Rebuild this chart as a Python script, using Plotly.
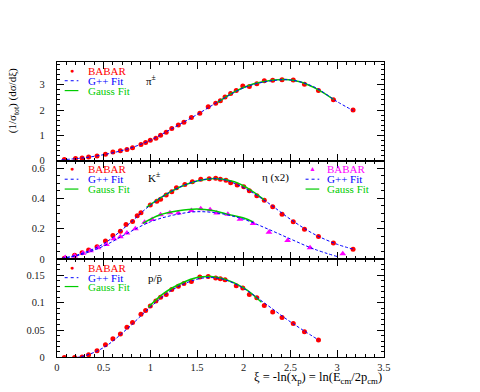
import plotly.graph_objects as go

# ---------------- data ----------------
# pi+- (top panel)
xi_pi = [0.08,0.20,0.27,0.34,0.43,0.52,0.60,0.68,0.75,0.81,0.90,0.95,1.00,1.06,1.11,1.17,1.23,1.30,1.36,1.44,1.53,1.62,1.70,1.75,1.80,1.86,1.92,1.99,2.06,2.14,2.22,2.31,2.41,2.53,2.65,2.80,2.96,3.17]
pi_data = [0.04,0.08,0.10,0.14,0.18,0.25,0.34,0.39,0.44,0.51,0.63,0.71,0.80,0.88,1.00,1.12,1.27,1.41,1.52,1.70,1.87,2.13,2.27,2.37,2.52,2.65,2.77,2.95,2.93,3.04,3.16,3.18,3.20,3.19,3.02,2.77,2.41,2.00]
gpp_pi_x = [0.05,0.25,0.5,0.75,1.0,1.25,1.5,1.75,2.0,2.25,2.5,2.75,3.0,3.17]
gpp_pi_y = [0.03,0.09,0.23,0.45,0.80,1.30,1.82,2.38,2.88,3.13,3.19,2.92,2.33,1.98]
gau_pi_x = [1.72,1.9,2.1,2.3,2.45,2.6,2.8,2.96]
gau_pi_y = [2.30,2.72,3.03,3.18,3.21,3.12,2.80,2.42]

# K+- (middle panel)
xi_k = [0.08,0.19,0.27,0.34,0.43,0.52,0.60,0.68,0.74,0.81,0.86,0.90,1.00,1.07,1.11,1.17,1.23,1.28,1.37,1.45,1.54,1.63,1.70,1.75,1.81,1.86,1.93,2.00,2.06,2.14,2.22,2.31,2.41,2.53,2.65,2.80,2.96,3.17]
k_data = [0.005,0.024,0.041,0.059,0.080,0.118,0.155,0.183,0.227,0.248,0.285,0.305,0.357,0.381,0.394,0.423,0.444,0.470,0.492,0.510,0.527,0.529,0.533,0.527,0.520,0.503,0.488,0.477,0.451,0.418,0.388,0.344,0.296,0.246,0.196,0.148,0.105,0.065]
gpp_k_x = [0.05,0.25,0.5,0.75,1.0,1.25,1.5,1.75,2.0,2.25,2.5,2.75,3.0,3.17]
gpp_k_y = [0.004,0.033,0.10,0.22,0.355,0.455,0.515,0.528,0.47,0.375,0.262,0.165,0.097,0.065]
gau_k_x = [0.96,1.1,1.3,1.5,1.7,1.9,2.05,2.22]
gau_k_y = [0.34,0.40,0.47,0.515,0.532,0.51,0.465,0.39]

# eta (x2) (middle panel)
xi_eta = [0.09,0.19,0.28,0.36,0.44,0.53,0.61,0.68,0.75,0.84,0.94,1.02,1.11,1.21,1.30,1.44,1.54,1.64,1.71,1.83,1.96,2.10,2.27,2.47,2.71,3.06]
eta_data = [0.009,0.020,0.037,0.054,0.074,0.096,0.133,0.146,0.172,0.200,0.242,0.261,0.292,0.305,0.303,0.320,0.331,0.325,0.303,0.296,0.263,0.235,0.176,0.122,0.074,0.035]
gpp_eta_x = [0.05,0.25,0.5,0.75,1.0,1.25,1.5,1.75,2.0,2.25,2.5,2.75,3.0]
gpp_eta_y = [0.003,0.027,0.085,0.168,0.245,0.290,0.312,0.300,0.262,0.200,0.132,0.066,0.016]
gau_eta_x = [0.92,1.1,1.3,1.5,1.68,1.82,2.0,2.1]
gau_eta_y = [0.235,0.290,0.318,0.330,0.318,0.296,0.270,0.244]

# p/pbar (bottom panel)
xi_p = [0.08,0.19,0.27,0.34,0.43,0.52,0.60,0.68,0.75,0.81,0.90,0.95,1.00,1.06,1.11,1.17,1.23,1.30,1.36,1.44,1.53,1.62,1.70,1.75,1.80,1.92,1.99,2.06,2.14,2.22,2.31,2.41,2.53,2.65,2.80]
p_data = [0.0,0.0,0.0007,0.005,0.012,0.023,0.034,0.043,0.055,0.064,0.079,0.086,0.094,0.103,0.110,0.115,0.124,0.130,0.135,0.139,0.147,0.148,0.145,0.144,0.142,0.131,0.127,0.115,0.109,0.095,0.083,0.073,0.062,0.047,0.032]
gpp_p_x = [0.05,0.25,0.5,0.75,1.0,1.25,1.5,1.65,1.8,2.0,2.25,2.5,2.8]
gpp_p_y = [0.0,0.001,0.018,0.052,0.092,0.125,0.143,0.146,0.142,0.126,0.096,0.065,0.032]
gau_p_x = [0.98,1.15,1.35,1.5,1.65,1.8,2.0,2.19]
gau_p_y = [0.092,0.118,0.137,0.146,0.148,0.143,0.127,0.101]

x_ticks = [0, 0.5, 1, 1.5, 2, 2.5, 3, 3.5]

# ---------------- style ----------------
W, H = 480, 392
FONT = "Liberation Serif"
RED, BLUE, GREEN, MAG = "#ff0000", "#0000ff", "#00cc00", "#ff00ff"
DASH = "3px,2px"

def px(x, y):
    return x / W, 1 - y / H

fig = go.Figure()

def data_trace(x, y, ax, color, symbol, size):
    fig.add_trace(go.Scatter(x=x, y=y, mode="markers", xaxis=ax[0], yaxis=ax[1],
                             marker=dict(color=color, size=size, symbol=symbol, line=dict(width=0)),
                             showlegend=False))

def fit_trace(x, y, ax, color, dash, width):
    fig.add_trace(go.Scatter(x=x, y=y, mode="lines", xaxis=ax[0], yaxis=ax[1],
                             line=dict(color=color, dash=dash, width=width, shape="spline", smoothing=1.0),
                             showlegend=False))

top, mid, bot = ("x", "y"), ("x2", "y2"), ("x3", "y3")

data_trace(xi_pi, pi_data, top, RED, "circle", 5)
data_trace(xi_k, k_data, mid, RED, "circle", 5)
data_trace(xi_eta, eta_data, mid, MAG, "triangle-up", 6)
data_trace(xi_p, p_data, bot, RED, "circle", 5)

fit_trace(gau_pi_x, gau_pi_y, top, GREEN, "solid", 1.5)
fit_trace(gpp_pi_x, gpp_pi_y, top, BLUE, DASH, 1)
fit_trace(gau_k_x, gau_k_y, mid, GREEN, "solid", 1.5)
fit_trace(gpp_k_x, gpp_k_y, mid, BLUE, DASH, 1)
fit_trace(gau_eta_x, gau_eta_y, mid, GREEN, "solid", 1.5)
fit_trace(gpp_eta_x, gpp_eta_y, mid, BLUE, DASH, 1)
fit_trace(gau_p_x, gau_p_y, bot, GREEN, "solid", 1.5)
fit_trace(gpp_p_x, gpp_p_y, bot, BLUE, DASH, 1)

xdom = [px(55, 0)[0], px(389, 0)[0]]
doms = {"top": [px(0, 163)[1], px(0, 63)[1]],
        "mid": [px(0, 263)[1], px(0, 163)[1]],
        "bot": [px(0, 363)[1], px(0, 263)[1]]}
tickfont = dict(family=FONT, size=10.5, color="#222222")

def xaxis(anchor, labels):
    return dict(domain=xdom, anchor=anchor, range=[0, 3.5], tickvals=x_ticks,
                showticklabels=labels, ticks="inside", ticklen=7, tickcolor="black",
                showline=True, linecolor="black", linewidth=1, mirror="allticks",
                showgrid=False, zeroline=False, tickfont=tickfont,
                minor=dict(dtick=0.1, ticks="inside", ticklen=3, tickcolor="black", showgrid=False))

def yaxis(anchor, dom, rng, tickvals, minor):
    return dict(domain=dom, anchor=anchor, range=rng, tickvals=tickvals,
                ticks="inside", ticklen=7, tickcolor="black", ticklabelstandoff=9,
                showline=True, linecolor="black", linewidth=1, mirror="allticks",
                showgrid=False, zeroline=False, tickfont=tickfont,
                minor=dict(dtick=minor, ticks="inside", ticklen=3, tickcolor="black", showgrid=False))

annotations = []
shapes = []

def text(x, y, s, color="black", size=11, anchor="left", angle=0):
    xp, yp = px(x, y)
    annotations.append(dict(x=xp, y=yp, xref="paper", yref="paper", text=s, showarrow=False,
                            xanchor=anchor, yanchor="middle", textangle=angle,
                            font=dict(family=FONT, size=size, color=color)))

def seg(x0, x1, y, color, dash):
    a, b = px(x0, y)
    c, _ = px(x1, y)
    shapes.append(dict(type="line", xref="paper", yref="paper", x0=a, x1=c, y0=b, y1=b,
                       line=dict(color=color, width=1.2 if dash == "solid" else 1, dash=dash)))

def legend(xl, xt, ys, sym, symcolor):
    text((xl[0] + xl[1]) / 2, ys[0], sym, symcolor, size=7, anchor="center")
    text(xt, ys[0], "BABAR", symcolor)
    seg(xl[0], xl[1], ys[1], BLUE, "dot")
    text(xt, ys[1], "G++ Fit", BLUE)
    seg(xl[0], xl[1], ys[2], GREEN, "solid")
    text(xt, ys[2], "Gauss Fit", GREEN)

legend((63, 77), 85, (72, 82, 92), "●", RED)
legend((63, 77), 85, (172, 182, 192), "●", RED)
legend((309, 323), 329, (172, 182, 192), "▲", MAG)
legend((63, 77), 85, (272, 282, 291), "●", RED)

text(144, 81, "π<sup>±</sup>")
text(146, 180, "K<sup>±</sup>")
text(262, 180, "η (x2)")
text(146, 282, "p/p\u0304")

text(11, 102, "(1/σ<sub>tot</sub>) (dσ/dξ)", size=11, angle=-90, anchor="center")
text(389, 384, "ξ = -ln(x<sub>p</sub>) = ln(E<sub>cm</sub>/2p<sub>cm</sub>)", size=12.5, anchor="right")

fig.update_layout(
    width=W, height=H, margin=dict(l=0, r=0, t=0, b=0),
    paper_bgcolor="white", plot_bgcolor="white", showlegend=False,
    font=dict(family=FONT, size=10, color="black"),
    xaxis=xaxis("y", False), yaxis=yaxis("x", doms["top"], [0, 3.9], [0, 1, 2, 3], 0.2),
    xaxis2=xaxis("y2", False), yaxis2=yaxis("x2", doms["mid"], [0, 0.65], [0, 0.2, 0.4, 0.6], 0.05),
    xaxis3=xaxis("y3", True), yaxis3=yaxis("x3", doms["bot"], [0, 0.18], [0, 0.05, 0.1, 0.15], 0.01),
    annotations=annotations, shapes=shapes,
)

# remove the default page margin so the 480x392 figure fills the window exactly
fig.write_html("out.html", config={"displayModeBar": False},
               post_script="document.body.style.margin='0';")
